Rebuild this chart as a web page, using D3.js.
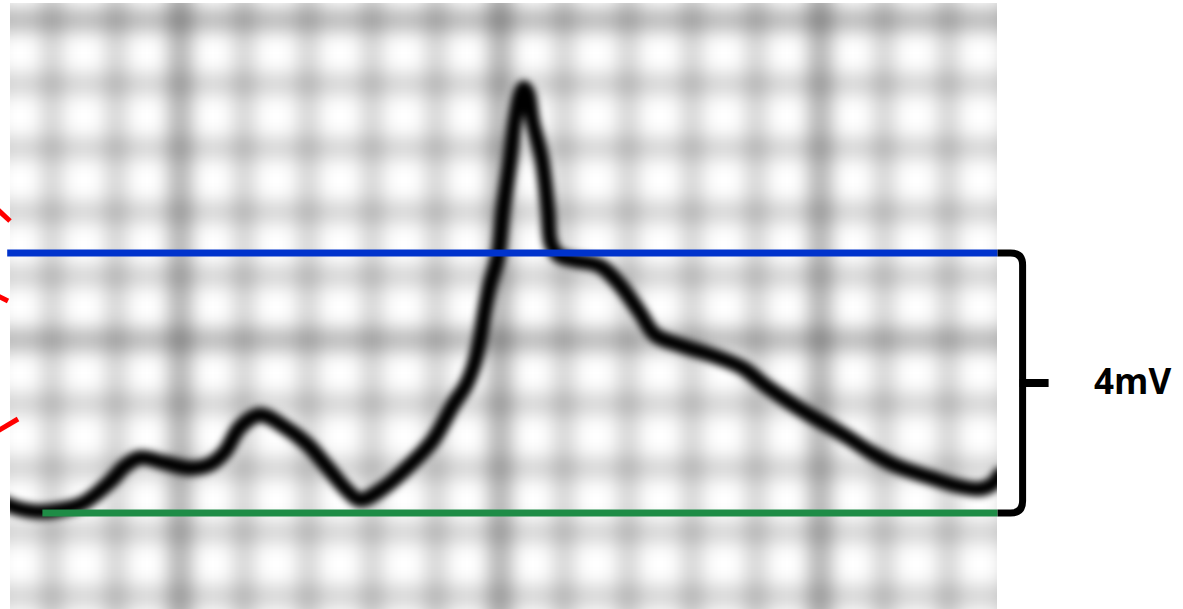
<!DOCTYPE html>
<html>
<head>
<meta charset="utf-8">
<script src="https://cdn.jsdelivr.net/npm/d3@7"></script>
<style>
  html, body { margin: 0; padding: 0; background: #ffffff; }
  svg { display: block; }
</style>
</head>
<body>
<svg id="chart" width="1183" height="609"></svg>
<script>
// ECG complex traced on grid paper (time in ms, amplitude in mV)
const traceTime = [
  90.6, 93.8, 110.6, 125.0, 139.4, 156.3, 165.6, 175.0, 190.6, 206.3,
  218.8, 228.1, 237.5, 250.0, 265.6, 279.4, 291.9, 304.4, 312.5, 326.9,
  343.8, 358.1, 370.6, 378.8, 383.8, 387.5, 390.6, 393.8, 398.8, 401.9,
  406.3, 409.4, 412.5, 415.0, 417.5, 420.6, 426.3, 430.0, 431.9, 436.3,
  445.6, 462.5, 475.0, 487.5, 496.9, 514.4, 535.6, 551.9, 566.9, 587.5,
  616.9, 631.3, 648.1, 668.8, 685.6, 700.0, 708.1, 712.5
];
const traceMv = [
  0.15, 0.11, 0.02, 0.05, 0.15, 0.48, 0.72, 0.85, 0.77, 0.69,
  0.75, 0.94, 1.32, 1.51, 1.32, 1.06, 0.71, 0.35, 0.20, 0.38,
  0.74, 1.12, 1.66, 1.97, 2.28, 2.66, 3.12, 3.51, 3.95, 4.66,
  5.43, 6.05, 6.43, 6.54, 6.45, 6.00, 5.43, 4.66, 4.15, 3.97,
  3.89, 3.80, 3.51, 3.08, 2.74, 2.57, 2.40, 2.23, 1.94, 1.60,
  1.17, 0.94, 0.72, 0.55, 0.42, 0.37, 0.45, 0.59
];

// Reference levels (mV) and where each line starts / ends (ms)
const levelValues = [4, 0];
const levelStarts = [92, 114];
const levelEnd = 711;
const bracketLabel = "4mV";

// Paper grid: one small square = 40 ms, heavy line every 5 squares
const gridStepMs = 40;
const gridMajorEvery = 5;

const svg = d3.select("#chart");

// Scales
const x = d3.scaleLinear().domain([100, 700]).range([20, 980]);
const y = d3.scaleLinear().domain([0, 4]).range([513, 253]);
// Horizontal paper rows are indexed by square number from the top heavy line
const rowY = d3.scaleLinear().domain([0, 1]).range([20, 84]);

// Paper area
const paper = { x0: 10, y0: 3, x1: 997, y1: 609 };

const defs = svg.append("defs");
defs.append("clipPath").attr("id", "paperClip")
  .append("rect")
  .attr("x", paper.x0).attr("y", paper.y0)
  .attr("width", paper.x1 - paper.x0).attr("height", paper.y1 - paper.y0 + 10);
defs.append("filter").attr("id", "gridBlur")
  .attr("x", "-5%").attr("y", "-5%").attr("width", "110%").attr("height", "110%")
  .append("feGaussianBlur").attr("stdDeviation", 9);
defs.append("filter").attr("id", "traceBlur")
  .attr("x", "-5%").attr("y", "-5%").attr("width", "110%").attr("height", "110%")
  .append("feGaussianBlur").attr("stdDeviation", 3.5);

const paperLayer = svg.append("g").attr("clip-path", "url(#paperClip)");
paperLayer.append("rect")
  .attr("x", paper.x0).attr("y", paper.y0)
  .attr("width", paper.x1 - paper.x0).attr("height", paper.y1 - paper.y0 + 10)
  .attr("fill", "#ffffff");

const grid = paperLayer.append("g").attr("filter", "url(#gridBlur)");

const isMajor = k => ((k % gridMajorEvery) + gridMajorEvery) % gridMajorEvery === 0;

// Vertical grid lines
const colTimes = d3.range(0, 800 + gridStepMs, gridStepMs);
grid.selectAll("line.col")
  .data(colTimes)
  .join("line")
  .attr("class", "col")
  .attr("x1", d => x(d)).attr("x2", d => x(d))
  .attr("y1", paper.y0 - 60).attr("y2", paper.y1 + 60)
  .attr("stroke", "#000")
  .attr("stroke-opacity", d => isMajor(Math.round(d / gridStepMs)) ? 0.3 : 0.17)
  .attr("stroke-width", d => isMajor(Math.round(d / gridStepMs)) ? 24 : 22);

// Horizontal grid lines
const rowIdx = d3.range(-1, 11);
grid.selectAll("line.row")
  .data(rowIdx)
  .join("line")
  .attr("class", "row")
  .attr("x1", paper.x0 - 60).attr("x2", paper.x1 + 60)
  .attr("y1", d => rowY(d)).attr("y2", d => rowY(d))
  .attr("stroke", "#000")
  .attr("stroke-opacity", d => isMajor(d) ? 0.27 : 0.17)
  .attr("stroke-width", d => isMajor(d) ? 24 : 22);

// ECG trace
const tracePts = traceTime.map((t, i) => [t, traceMv[i]]);
const line = d3.line()
  .x(d => x(d[0]))
  .y(d => y(d[1]))
  .curve(d3.curveCatmullRom.alpha(0.5));

paperLayer.append("path")
  .datum(tracePts)
  .attr("d", line)
  .attr("fill", "none")
  .attr("stroke", "#000")
  .attr("stroke-width", 15)
  .attr("stroke-linejoin", "round")
  .attr("stroke-linecap", "round")
  .attr("filter", "url(#traceBlur)");

// Reference lines: peak level (blue) and baseline (green)
const levelColors = ["#0033cc", "#1e8c46"];
svg.selectAll("line.level")
  .data(levelValues)
  .join("line")
  .attr("class", "level")
  .attr("x1", (d, i) => x(levelStarts[i]))
  .attr("x2", x(levelEnd))
  .attr("y1", d => y(d)).attr("y2", d => y(d))
  .attr("stroke", (d, i) => levelColors[i])
  .attr("stroke-width", 7);

// Brace spanning the two levels
const braceTop = y(d3.max(levelValues));
const braceBottom = y(d3.min(levelValues));
const braceMid = (braceTop + braceBottom) / 2;
const bx0 = x(levelEnd);
const bx = bx0 + 25;
const r = 12;
const brace = d3.path();
brace.moveTo(bx0, braceTop);
brace.lineTo(bx - r, braceTop);
brace.quadraticCurveTo(bx, braceTop, bx, braceTop + r);
brace.lineTo(bx, braceBottom - r);
brace.quadraticCurveTo(bx, braceBottom, bx - r, braceBottom);
brace.lineTo(bx0, braceBottom);
svg.append("path")
  .attr("d", brace.toString())
  .attr("fill", "none")
  .attr("stroke", "#000")
  .attr("stroke-width", 7);
svg.append("line")
  .attr("x1", bx - 3).attr("x2", bx + 26)
  .attr("y1", braceMid).attr("y2", braceMid)
  .attr("stroke", "#000")
  .attr("stroke-width", 8);

svg.append("text")
  .attr("x", 1094)
  .attr("y", braceMid + 11)
  .attr("font-family", "'Open Sans', 'DejaVu Sans', sans-serif")
  .attr("font-weight", 700)
  .attr("font-size", 35)
  .attr("fill", "#000")
  .text(bracketLabel);

// Pointer strokes entering from the left margin
const pointers = [
  [[-4, 208], [10, 221]],
  [[-4, 295], [8, 301]],
  [[-4, 432], [18, 419]]
];
svg.selectAll("line.pointer")
  .data(pointers)
  .join("line")
  .attr("class", "pointer")
  .attr("x1", d => d[0][0]).attr("y1", d => d[0][1])
  .attr("x2", d => d[1][0]).attr("y2", d => d[1][1])
  .attr("stroke", "#ff0000")
  .attr("stroke-width", 5);
</script>
</body>
</html>
